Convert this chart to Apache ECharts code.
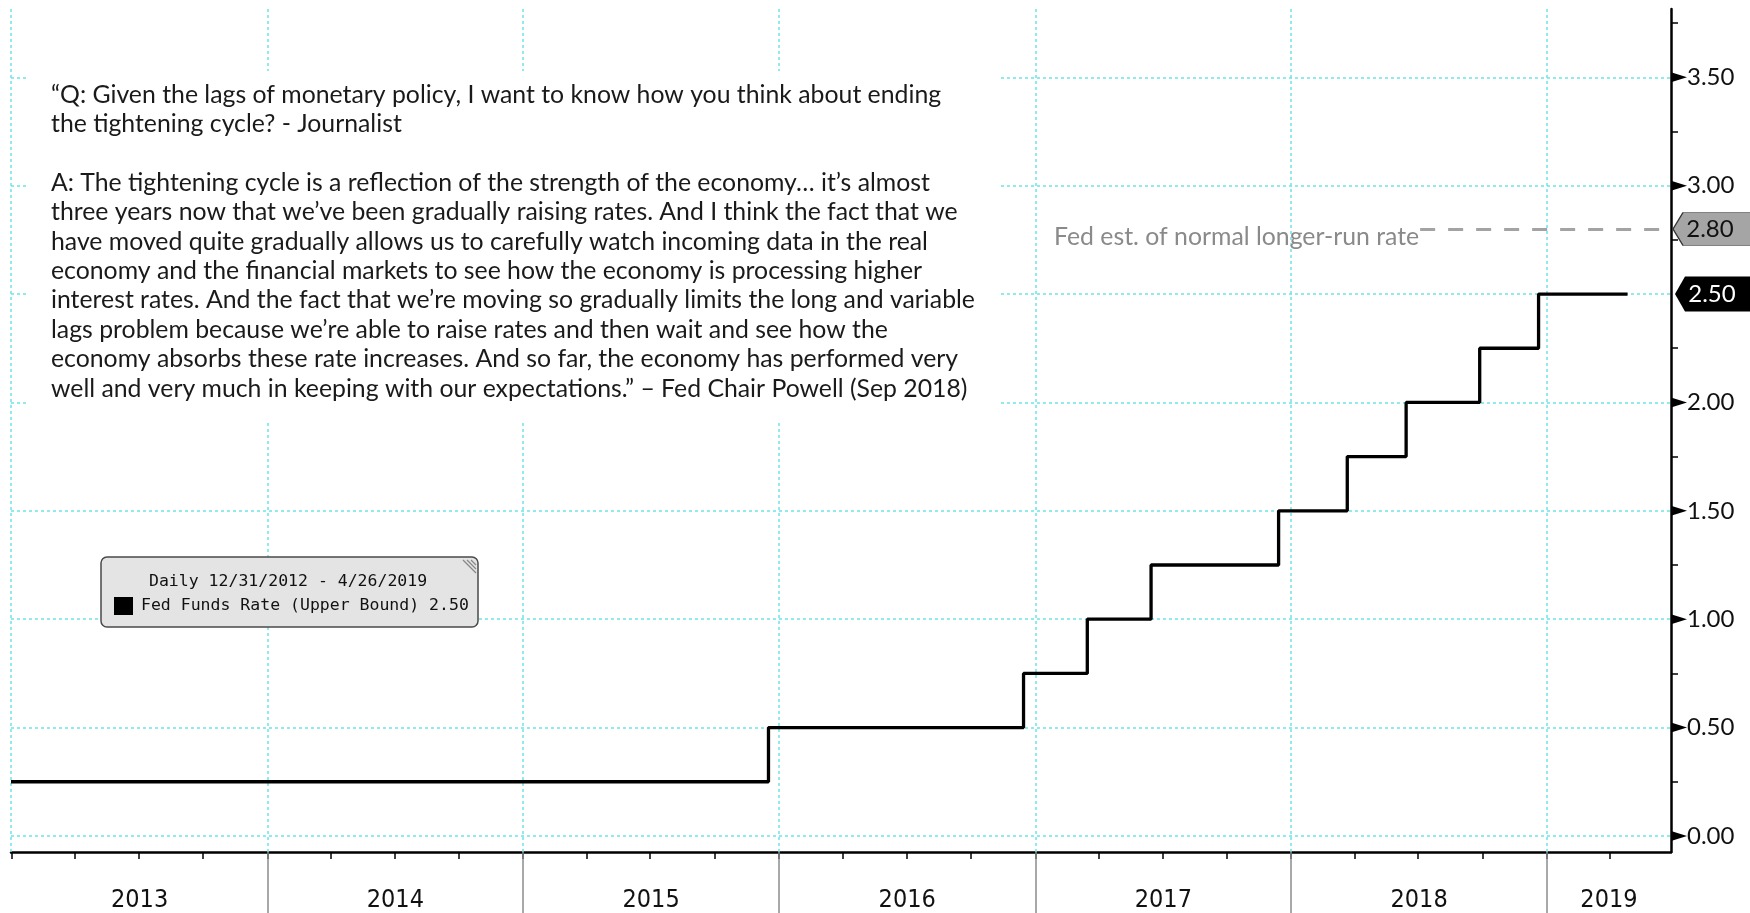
<!DOCTYPE html>
<html>
<head>
<meta charset="utf-8">
<script src="https://cdn.jsdelivr.net/npm/echarts@6/dist/echarts.min.js"></script>
<style>
html, body { margin: 0; padding: 0; background: #fff; }
#chart { width: 1750px; height: 913px; }
</style>
</head>
<body>
<div id="chart"></div>
<script>
// Fed funds target rate, upper bound (dates of each change)
var rateDates = ['2012-12-31', '2015-12-17', '2016-12-15', '2017-03-16', '2017-06-15', '2017-12-14',
                 '2018-03-22', '2018-06-14', '2018-09-27', '2018-12-20', '2019-04-26'];
var rateValues = [0.25, 0.50, 0.75, 1.00, 1.25, 1.50, 1.75, 2.00, 2.25, 2.50, 2.50];
var seriesName = 'Fed Funds Rate (Upper Bound)';

var years = [2013, 2014, 2015, 2016, 2017, 2018, 2019];
var yLabels = [0, 0.5, 1, 1.5, 2, 2.5, 3, 3.5];
var yMinor = [0.25, 0.75, 1.25, 1.75, 2.25, 2.75, 3.25, 3.75];

var fedEstimate = 2.80;
var fedEstimateFrom = '2018-07-04';
var fedEstimateText = 'Fed est. of normal longer-run rate';

var xMin = '2012-12-31';
var xMax = '2019-06-27';

var quote = [
    '\u201cQ: Given the lags of monetary policy, I want to know how you think about ending',
    'the tightening cycle? - Journalist',
    '',
    'A: The tightening cycle is a reflection of the strength of the economy\u2026 it\u2019s almost',
    'three years now that we\u2019ve been gradually raising rates. And I think the fact that we',
    'have moved quite gradually allows us to carefully watch incoming data in the real',
    'economy and the financial markets to see how the economy is processing higher',
    'interest rates. And the fact that we\u2019re moving so gradually limits the long and variable',
    'lags problem because we\u2019re able to raise rates and then wait and see how the',
    'economy absorbs these rate increases. And so far, the economy has performed very',
    'well and very much in keeping with our expectations.\u201d \u2013 Fed Chair Powell (Sep 2018)'
];

function ts(s) { return echarts.time.parse(s).getTime(); }
function usDate(s) { var d = echarts.time.parse(s); return (d.getMonth() + 1) + '/' + d.getDate() + '/' + d.getFullYear(); }

var tMin = ts(xMin), tMax = ts(xMax);
var yearStarts = years.map(function (y) { return ts(y + '-01-01'); });
var quarterTicks = [];
years.forEach(function (y) {
    ['01', '04', '07', '10'].forEach(function (m) {
        var t = ts(y + '-' + m + '-01');
        if (t <= tMax) quarterTicks.push(t);
    });
});
var yearMids = years.map(function (y) {
    var a = Math.max(ts(y + '-01-01'), tMin);
    var b = Math.min(ts((y + 1) + '-01-01'), tMax);
    return (a + b) / 2;
});

var lineData = rateDates.map(function (d, i) { return [ts(d), rateValues[i]]; });
var lastValue = rateValues[rateValues.length - 1];

var gridColor = '#6fe3e8';
var gridLines = yLabels.map(function (v) { return { yAxis: v }; })
    .concat([tMin].concat(yearStarts.slice(1)).map(function (t) { return { xAxis: t }; }));

var textFont = 'Lato';
var yearFont = "'Liberation Sans Narrow', 'DejaVu Sans Condensed', Roboto, sans-serif";

var chart = echarts.init(document.getElementById('chart'));

var option = {
    animation: false,
    backgroundColor: '#fff',
    grid: { left: 11, right: 79, top: 9, bottom: 61, containLabel: false, outerBoundsMode: 'none' },
    legend: {
        data: [seriesName],
        left: 114, top: 597,
        padding: 0,
        itemWidth: 19, itemHeight: 18,
        icon: 'rect',
        selectedMode: false,
        z: 60,
        formatter: function (name) { return name + ' ' + lastValue.toFixed(2); },
        textStyle: { fontFamily: 'DejaVu Sans Mono', fontSize: 16.5, color: '#111', padding: [2, 0, 0, 3] }
    },
    xAxis: [{
        type: 'value', min: tMin, max: tMax, position: 'bottom',
        axisLine: { onZero: false, lineStyle: { color: '#000', width: 2.5 } },
        axisTick: { show: true, customValues: quarterTicks, length: 7, lineStyle: { color: '#000', width: 1.5 } },
        axisLabel: {
            customValues: yearMids,
            formatter: function (v) { return String(new Date(v).getFullYear()); },
            margin: 36, fontFamily: yearFont, fontSize: 25, color: '#111'
        },
        splitLine: { show: false }
    }, {
        type: 'value', min: tMin, max: tMax, position: 'bottom',
        axisLine: { show: false, onZero: false },
        axisTick: { show: true, customValues: yearStarts.slice(1), length: 61, lineStyle: { color: '#8c8c8c', width: 1.5 } },
        axisLabel: { show: false },
        splitLine: { show: false }
    }],
    yAxis: {
        type: 'value', position: 'right', min: -0.074, max: 3.815,
        axisLine: { show: true, onZero: false, lineStyle: { color: '#000', width: 2.5 } },
        axisTick: { show: true, customValues: yMinor, length: 7, lineStyle: { color: '#000', width: 1.5 } },
        axisLabel: {
            customValues: yLabels,
            formatter: function (v) { return v.toFixed(2); },
            margin: 16, fontFamily: textFont, fontSize: 24, color: '#111'
        },
        splitLine: { show: false }
    },
    series: [{
        name: seriesName,
        type: 'line',
        step: 'end',
        data: lineData,
        showSymbol: false,
        symbol: 'none',
        clip: false,
        z: 3,
        color: '#000',
        lineStyle: { color: '#000', width: 3.3 },
        markLine: {
            silent: true,
            z: 1,
            symbol: ['none', 'none'],
            label: { show: false },
            lineStyle: { color: gridColor, type: [3, 3], width: 1.5 },
            data: gridLines.concat([[
                {
                    coord: [ts(fedEstimateFrom), fedEstimate],
                    lineStyle: { color: '#a3a3a3', type: [15, 13], width: 3 },
                    label: {
                        show: true, position: 'start', formatter: fedEstimateText,
                        fontFamily: textFont, fontSize: 24.8, color: '#8a8a8a', distance: 1, offset: [0, 8]
                    }
                },
                { coord: [tMax, fedEstimate] }
            ]])
        },
        markPoint: {
            silent: true,
            label: { show: false },
            data: yLabels.filter(function (v) { return v !== lastValue; }).map(function (v) {
                return {
                    coord: [tMax, v], symbol: 'path://M0,0L16,5L0,10Z', symbolSize: [16, 10],
                    symbolOffset: [8, 0], symbolKeepAspect: false, itemStyle: { color: '#000' }
                };
            }).concat([{
                coord: [tMax, fedEstimate], value: fedEstimate,
                symbol: 'path://M0,17L10,0L80,0L80,34L10,34Z', symbolSize: [80, 33], symbolOffset: [42, 0],
                symbolKeepAspect: false,
                itemStyle: { color: '#a5a5a5', borderColor: '#333', borderWidth: 1 },
                label: { show: true, position: 'inside', offset: [-3, 0], formatter: fedEstimate.toFixed(2),
                         fontFamily: textFont, fontSize: 24, color: '#111' }
            }, {
                coord: [tMax, lastValue], value: lastValue,
                symbol: 'path://M0,17L10,0L80,0L80,34L10,34Z', symbolSize: [80, 35], symbolOffset: [44, 0],
                symbolKeepAspect: false,
                itemStyle: { color: '#000' },
                label: { show: true, position: 'inside', offset: [-3, 0], formatter: lastValue.toFixed(2),
                         fontFamily: textFont, fontSize: 24, color: '#fff' }
            }])
        }
    }],
    graphic: [
        { type: 'rect', z: 50, shape: { x: 28, y: 71, width: 972, height: 352 }, style: { fill: '#fff' }, silent: true },
        {
            type: 'text', z: 51, x: 51, y: 80, silent: true,
            style: { text: quote.join('\n'), font: '24.8px ' + textFont, fill: '#1a1a1a', lineHeight: 29.4 }
        },
        {
            type: 'rect', z: 55, silent: true,
            shape: { x: 101, y: 557, width: 377, height: 70, r: 6 },
            style: { fill: '#e4e4e4', stroke: '#4a4a4a', lineWidth: 1.5 }
        },
        { type: 'line', z: 56, silent: true, shape: { x1: 463, y1: 560, x2: 476, y2: 573 }, style: { stroke: '#888', lineWidth: 1.2 } },
        { type: 'line', z: 56, silent: true, shape: { x1: 467, y1: 560, x2: 476, y2: 569 }, style: { stroke: '#888', lineWidth: 1.2 } },
        { type: 'line', z: 56, silent: true, shape: { x1: 471, y1: 560, x2: 476, y2: 565 }, style: { stroke: '#888', lineWidth: 1.2 } },
        {
            type: 'text', z: 57, x: 149, y: 582, silent: true,
            style: {
                text: 'Daily ' + usDate(rateDates[0]) + ' - ' + usDate(rateDates[rateDates.length - 1]),
                font: '16.5px "DejaVu Sans Mono"', fill: '#111', verticalAlign: 'middle'
            }
        }
    ]
};

chart.setOption(option);
</script>
</body>
</html>
